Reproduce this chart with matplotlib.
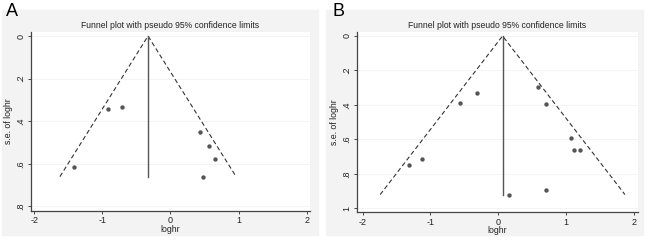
import numpy as np
import matplotlib.pyplot as plt
from matplotlib.patches import Rectangle

plt.rcParams['font.family'] = ['Liberation Sans', 'DejaVu Sans']

# panel A
a_loghr = [-0.92, -0.71, -1.42, 0.43, 0.57, 0.66, 0.48]
a_se = [0.342, 0.333, 0.616, 0.452, 0.514, 0.575, 0.66]
a_pooled = -0.33

# panel B
b_loghr = [-1.32, -1.12, -0.565, -0.315, 0.58, 0.708, 1.07, 1.11, 1.21, 0.162, 0.703]
b_se = [0.75, 0.712, 0.387, 0.331, 0.294, 0.395, 0.592, 0.66, 0.66, 0.921, 0.892]
b_pooled = 0.063

a_yticks = [0, 0.2, 0.4, 0.6, 0.8]
a_ylabels = ['0', '.2', '.4', '.6', '.8']
b_yticks = [0, 0.2, 0.4, 0.6, 0.8, 1.0]
b_ylabels = ['0', '.2', '.4', '.6', '.8', '1']
xticks = [-2, -1, 0, 1, 2]

W, H = 650, 240
fig = plt.figure(figsize=(6.5, 2.4), dpi=100)


def px_box(x0, y0, x1, y1):
    return [x0 / W, 1 - y1 / H, (x1 - x0) / W, (y1 - y0) / H]


def funnel(ax, loghr, se, pooled, yticks, ylabels, xlim, ylim):
    ax.set_facecolor('white')
    ax.set_zorder(2)
    maxse = max(se)
    ax.plot([pooled - 1.96 * maxse, pooled, pooled + 1.96 * maxse],
            [maxse, 0, maxse], ls=(0, (4, 2.5)), color='#333333', lw=0.8)
    ax.plot([pooled, pooled], [0, maxse], color='#555555', lw=1.0)
    ax.scatter(loghr, se, s=10, color='#555555', zorder=3, linewidths=0)
    for t in yticks:
        ax.axhline(t, color='#f3f3f3', lw=0.6, zorder=0)
    ax.set_xlim(*xlim)
    ax.set_ylim(*ylim)
    ax.set_xticks(xticks)
    ax.set_xticklabels([str(t) for t in xticks])
    ax.set_yticks(yticks)
    ax.set_yticklabels(ylabels, rotation=90, va='center')
    for s in ['top', 'right']:
        ax.spines[s].set_visible(False)
    for s in ['left', 'bottom']:
        ax.spines[s].set_color('#444444')
        ax.spines[s].set_linewidth(0.9)
    ax.tick_params(length=2.5, width=0.7, color='#444444', labelsize=6.5,
                   pad=1.5, labelcolor='#222222')
    ax.set_xlabel('loghr', fontsize=6.3, labelpad=-0.5, color='#222222')
    ax.set_ylabel('s.e. of loghr', fontsize=6.3, labelpad=2, color='#222222')
    ax.set_title('Funnel plot with pseudo 95% confidence limits',
                 fontsize=6.2, pad=3, color='#222222')


# graph regions
for x0, x1 in [(2, 318), (326, 643)]:
    fig.add_artist(Rectangle((x0 / W, 1 - 235 / H), (x1 - x0) / W, 225 / H,
                             transform=fig.transFigure, color='#f3f3f3',
                             zorder=-5))

ax1 = fig.add_axes(px_box(30.7, 32, 310, 210.7))
funnel(ax1, a_loghr, a_se, a_pooled, a_yticks, a_ylabels,
       (-2.053, 2.049), (0.82, -0.019))

ax2 = fig.add_axes(px_box(356.7, 32, 638.3, 212))
funnel(ax2, b_loghr, b_se, b_pooled, b_yticks, b_ylabels,
       (-2.088, 2.065), (1.022, -0.023))

fig.text(6 / W, 1 - 12 / H, 'A', fontsize=13, va='center', ha='left', zorder=5)
fig.text(332 / W, 1 - 12 / H, 'B', fontsize=13, va='center', ha='left', zorder=5)

fig.savefig('out.png', dpi=100)
